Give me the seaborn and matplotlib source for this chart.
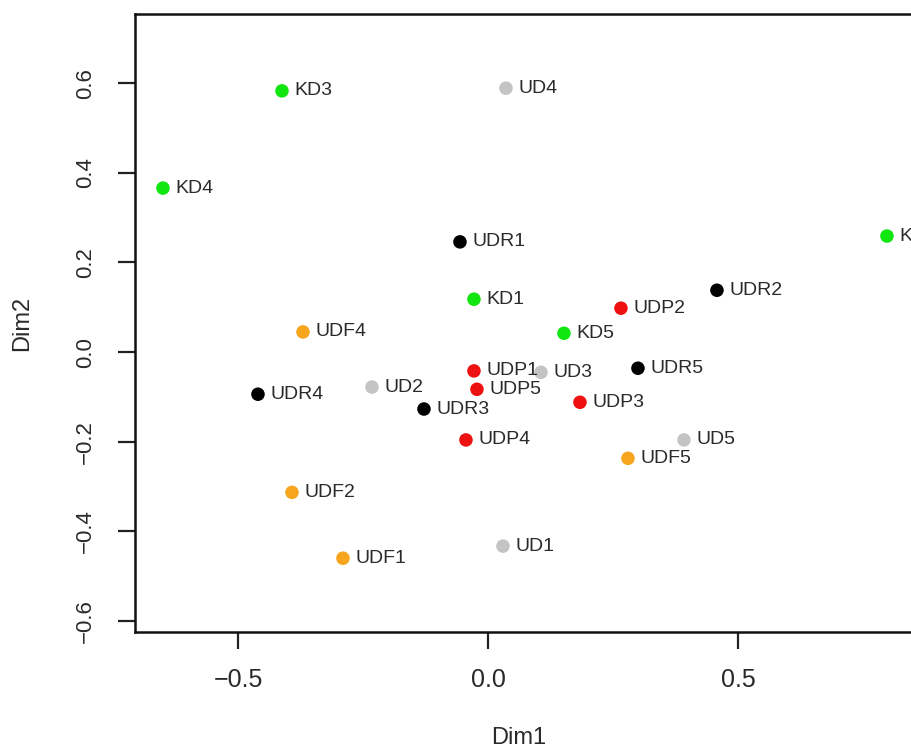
import matplotlib
matplotlib.use("Agg")
import matplotlib.pyplot as plt
import seaborn as sns
import pandas as pd

sns.set_theme(style="white")
plt.rcParams['font.family'] = ['Liberation Sans', 'DejaVu Sans']

labels = ["KD1", "KD2", "KD3", "KD4", "KD5",
          "UD1", "UD2", "UD3", "UD4", "UD5",
          "UDF1", "UDF2", "UDF4", "UDF5",
          "UDP1", "UDP2", "UDP3", "UDP4", "UDP5",
          "UDR1", "UDR2", "UDR3", "UDR4", "UDR5"]
dim1 = [-0.028, 0.798, -0.412, -0.650, 0.152,
        0.030, -0.232, 0.106, 0.036, 0.392,
        -0.290, -0.392, -0.370, 0.280,
        -0.028, 0.266, 0.184, -0.044, -0.022,
        -0.056, 0.458, -0.128, -0.460, 0.300]
dim2 = [0.118, 0.259, 0.583, 0.366, 0.042,
        -0.433, -0.078, -0.045, 0.589, -0.196,
        -0.460, -0.313, 0.045, -0.237,
        -0.042, 0.098, -0.112, -0.196, -0.083,
        0.246, 0.138, -0.127, -0.094, -0.036]
groups = ["KD"] * 5 + ["UD"] * 5 + ["UDF"] * 4 + ["UDP"] * 5 + ["UDR"] * 5
palette = {"KD": "#11e611", "UD": "#c4c4c4", "UDF": "#f7a51e",
           "UDP": "#ee1111", "UDR": "#000000"}

df = pd.DataFrame({"Dim1": dim1, "Dim2": dim2, "group": groups, "label": labels})

fig = plt.figure(figsize=(9.12, 7.49), dpi=100)
ax = fig.add_axes([0.148, 0.156, 0.864, 0.825])

sns.scatterplot(data=df, x="Dim1", y="Dim2", hue="group", palette=palette,
                s=95, edgecolor="none", legend=False, ax=ax, zorder=3)

for xv, yv, lab in zip(df["Dim1"], df["Dim2"], df["label"]):
    ax.annotate(lab, (xv, yv), xytext=(9, 0), textcoords="offset points",
                ha="left", va="center", fontsize=14, color="#2a2a2a")

ax.set_xlim(-0.706, 0.87)
ax.set_ylim(-0.625, 0.754)
ax.set_xticks([-0.5, 0.0, 0.5])
ax.set_xticklabels(["\u22120.5", "0.0", "0.5"])
ax.set_yticks([-0.6, -0.4, -0.2, 0.0, 0.2, 0.4, 0.6])
ax.set_yticklabels(["\u22120.6", "\u22120.4", "\u22120.2", "0.0", "0.2", "0.4", "0.6"],
                   rotation=90, va="center")
ax.tick_params(axis="both", direction="out", length=12, width=1.6,
               color="#222222", labelcolor="#2a2a2a")
ax.tick_params(axis="x", pad=14, labelsize=18)
ax.tick_params(axis="y", pad=16, labelsize=16)
ax.tick_params(left=True, bottom=True)

for sp in ax.spines.values():
    sp.set_visible(True)
    sp.set_color("#111111")
    sp.set_linewidth(1.8)

ax.set_xlabel("Dim1", fontsize=17, color="#2a2a2a")
ax.set_ylabel("Dim2", fontsize=17, color="#2a2a2a")
ax.xaxis.set_label_coords(0.487, -0.153)
ax.yaxis.set_label_coords(-0.129, 0.5)

fig.savefig("out.png", dpi=100)
